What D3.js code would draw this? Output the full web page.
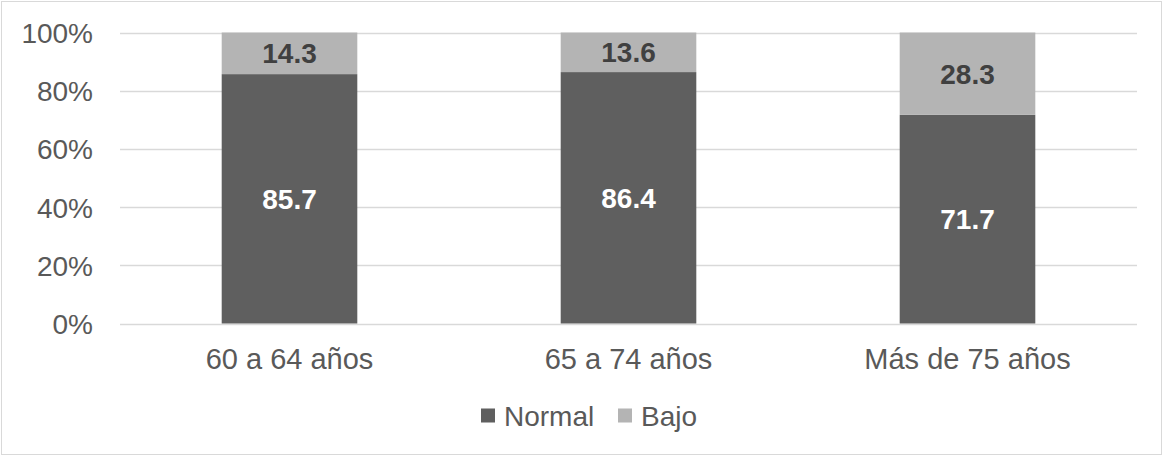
<!DOCTYPE html>
<html>
<head>
<meta charset="utf-8">
<script src="https://cdn.jsdelivr.net/npm/d3@7/dist/d3.min.js"></script>
<style>
  html, body { margin: 0; padding: 0; background: #fff; }
  svg { display: block; font-family: "Liberation Sans", Arial, sans-serif; }
</style>
</head>
<body>
<svg id="chart" width="1164" height="456"></svg>
<script>
// Age groups and percentage shares per nutritional status
const categories = ["60 a 64 años", "65 a 74 años", "Más de 75 años"];
const seriesNames = ["Normal", "Bajo"];
const normalValues = [85.7, 86.4, 71.7];
const bajoValues = [14.3, 13.6, 28.3];
const tickValues = [0, 20, 40, 60, 80, 100];
const tickLabels = ["0%", "20%", "40%", "60%", "80%", "100%"];

const colors = { Normal: "#5f5f5f", Bajo: "#b4b4b4" };
const labelColors = { Normal: "#ffffff", Bajo: "#404040" };

const svg = d3.select("#chart");
const W = 1164, H = 456;
const plot = { left: 120, right: 1137, top: 32.5, bottom: 323.5 };

// Outer chart frame
svg.append("rect")
  .attr("x", 1.5).attr("y", 1.5)
  .attr("width", W - 4).attr("height", H - 3)
  .attr("fill", "#fff").attr("stroke", "#d9d9d9").attr("stroke-width", 1);

const x = d3.scaleBand()
  .domain(categories)
  .range([plot.left, plot.right])
  .paddingInner(0.6)
  .paddingOuter(0.3);

const y = d3.scaleLinear()
  .domain([0, 100])
  .range([plot.bottom, plot.top]);

// Gridlines
svg.append("g")
  .selectAll("line")
  .data(tickValues)
  .join("line")
  .attr("x1", plot.left).attr("x2", plot.right)
  .attr("y1", d => Math.round(y(d)) + 0.5)
  .attr("y2", d => Math.round(y(d)) + 0.5)
  .attr("stroke", "#d9d9d9").attr("stroke-width", 1.5);

// Y axis labels
const yAxis = d3.axisLeft(y)
  .tickValues(tickValues)
  .tickFormat((d, i) => tickLabels[i])
  .tickSize(0)
  .tickPadding(27);
const gy = svg.append("g").attr("transform", `translate(${plot.left},0)`).call(yAxis);
gy.select(".domain").remove();
gy.selectAll("text")
  .attr("font-size", 28)
  .attr("font-family", "Liberation Sans, Arial, sans-serif")
  .attr("fill", "#595959")
  .attr("dy", "0.36em");

// Stacked data
const rows = categories.map((c, i) => ({ cat: c, Normal: normalValues[i], Bajo: bajoValues[i] }));
const stacked = d3.stack().keys(seriesNames)(rows);

const layers = svg.append("g").selectAll("g")
  .data(stacked)
  .join("g")
  .attr("fill", d => colors[d.key]);

layers.selectAll("rect")
  .data(d => d)
  .join("rect")
  .attr("x", d => x(d.data.cat))
  .attr("width", x.bandwidth())
  .attr("y", d => y(d[1]))
  .attr("height", d => y(d[0]) - y(d[1]));

// Value labels centred in each segment
const labelLayers = svg.append("g").selectAll("g")
  .data(stacked)
  .join("g");

labelLayers.each(function(layer) {
  d3.select(this).selectAll("text")
    .data(layer)
    .join("text")
    .attr("x", d => x(d.data.cat) + x.bandwidth() / 2)
    .attr("y", d => (y(d[0]) + y(d[1])) / 2)
    .attr("dy", "0.36em")
    .attr("text-anchor", "middle")
    .attr("font-size", 28)
    .attr("font-weight", "bold")
    .attr("fill", labelColors[layer.key])
    .text(d => (d[1] - d[0]).toFixed(1));
});

// X axis category labels
const xAxis = d3.axisBottom(x).tickSize(0).tickPadding(0);
const gx = svg.append("g").attr("transform", `translate(0,${plot.bottom})`).call(xAxis);
gx.select(".domain").remove();
gx.selectAll("text")
  .attr("font-size", 29)
  .attr("font-family", "Liberation Sans, Arial, sans-serif")
  .attr("fill", "#595959")
  .attr("dy", null)
  .attr("y", 45.5);

// Legend
const legendItems = [
  { key: "Normal", sx: 481, tx: 504 },
  { key: "Bajo", sx: 618, tx: 641 }
];
const legend = svg.append("g");
legendItems.forEach(it => {
  legend.append("rect")
    .attr("x", it.sx).attr("y", 408.5)
    .attr("width", 14).attr("height", 14)
    .attr("fill", colors[it.key]);
  legend.append("text")
    .attr("x", it.tx).attr("y", 425.5)
    .attr("font-size", 28)
    .attr("fill", "#595959")
    .text(it.key);
});
</script>
</body>
</html>
